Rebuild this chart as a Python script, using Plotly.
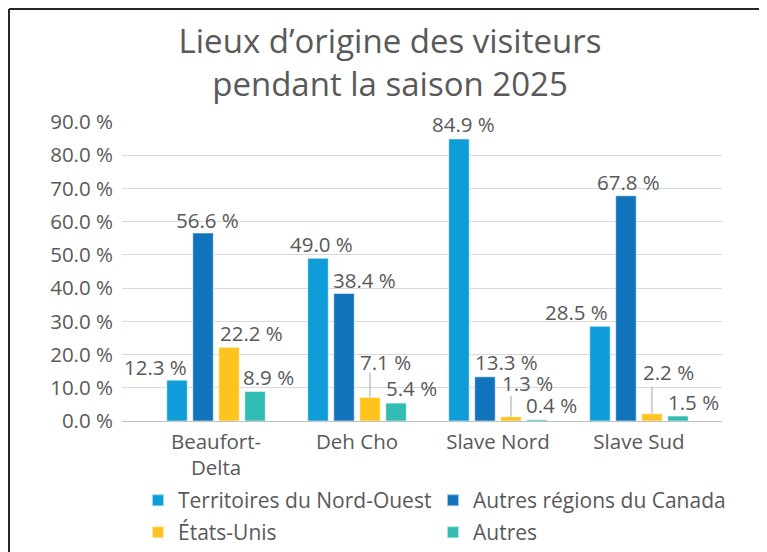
import plotly.graph_objects as go

categories = ["Beaufort-<br>Delta", "Deh Cho", "Slave Nord", "Slave Sud"]
series_names = ["Territoires du Nord-Ouest", "Autres régions du Canada", "États-Unis", "Autres"]
tno = [12.3, 49.0, 84.9, 28.5]
canada = [56.6, 38.4, 13.3, 67.8]
usa = [22.2, 7.1, 1.3, 2.2]
autres = [8.9, 5.4, 0.4, 1.5]
y_ticks = [0, 10, 20, 30, 40, 50, 60, 70, 80, 90]
y_tick_labels = ["0.0 %", "10.0 %", "20.0 %", "30.0 %", "40.0 %", "50.0 %", "60.0 %", "70.0 %", "80.0 %", "90.0 %"]

series_values = [tno, canada, usa, autres]
colors = ["#0F9DD9", "#1273BD", "#FEC41E", "#31BDB3"]
legend_ids = ["legend", "legend", "legend2", "legend2"]

# label offsets (pixels) relative to bar top centre: [series][category]
label_dx = [[-22, 3, 4, -24], [4, 20, 21, 3], [22, 16, 17, 17], [14, 16, 15, 16]]
label_dy = [[13, 14, 15, 14], [13, 13, 15, 14], [14, 35, 34, 42], [14, 15, 15, 14]]
leader = [[0, 0, 0, 0], [0, 0, 0, 0], [0, 25, 21, 27], [0, 0, 0, 0]]

FONT = "Open Sans"
TXT = "#595959"
FS = 20.5

W, H = 759, 544
L, R, T, B = 114, 45, 114, 131
PW, PH = W - L - R, H - T - B

fig = go.Figure()
for name, vals, col, lg in zip(series_names, series_values, colors, legend_ids):
    fig.add_trace(go.Bar(
        x=list(range(len(categories))), y=vals, name=name, legend=lg,
        marker=dict(color=col, line=dict(color="rgba(255,255,255,0.6)", width=1)),
        hoverinfo="skip",
    ))

slot = 0.184
annotations = []
shapes = []
for j, vals in enumerate(series_values):
    off = (j - 1.5) * slot
    for i, v in enumerate(vals):
        annotations.append(dict(
            x=i + off, y=v, xref="x", yref="y",
            text=f"{v:.1f} %", showarrow=False,
            xshift=label_dx[j][i], yshift=label_dy[j][i],
            xanchor="center", yanchor="middle",
            font=dict(family=FONT, size=FS, color=TXT),
        ))
        if leader[j][i]:
            shapes.append(dict(
                type="line", xref="x", yref="y", ysizemode="pixel",
                x0=i + off, x1=i + off, yanchor=v, y0=0, y1=leader[j][i],
                line=dict(color="#A6A6A6", width=1),
            ))

# outer frame (left and top edges)
fx = (1 - L) / PW
fy = (PH + T - 1) / PH
shapes.append(dict(type="line", xref="paper", yref="paper",
                   x0=fx, x1=fx, y0=-B / PH - 0.05, y1=fy,
                   line=dict(color="#262626", width=2)))
shapes.append(dict(type="line", xref="paper", yref="paper",
                   x0=fx, x1=(W - L) / PW + 0.05, y0=fy, y1=fy,
                   line=dict(color="#262626", width=2)))

legend_common = dict(orientation="h", xref="container", yref="container",
                     xanchor="left", yanchor="top",
                     entrywidth=250, entrywidthmode="pixels",
                     font=dict(family=FONT, size=21, color=TXT), itemsizing="constant",
                     traceorder="normal", bgcolor="rgba(0,0,0,0)")

fig.update_layout(
    width=W, height=H,
    margin=dict(l=L, r=R, t=T, b=B, autoexpand=False),
    paper_bgcolor="white", plot_bgcolor="white",
    barmode="group", bargap=0.262, bargroupgap=0.21,
    title=dict(text="Lieux d’origine des visiteurs<br>pendant la saison 2025",
               x=382 / W, xanchor="center", y=1 - 45 / H, yanchor="top", yref="container",
               font=dict(family=FONT, size=33, color=TXT)),
    xaxis=dict(type="linear", range=[-0.667, 3.589], tickvals=list(range(len(categories))),
               ticktext=categories, showgrid=False, zeroline=False,
               showline=True, linecolor="#BFBFBF", linewidth=1, ticks="",
               ticklabelstandoff=2,
               tickfont=dict(family=FONT, size=FS, color=TXT)),
    yaxis=dict(range=[0, 90], tickvals=y_ticks, ticktext=y_tick_labels,
               showgrid=True, gridcolor="#D9D9D9", gridwidth=1, zeroline=False,
               showline=False, ticks="", ticklabelstandoff=8,
               tickfont=dict(family=FONT, size=FS, color=TXT)),
    legend=dict(legend_common, x=130 / W, y=1 - 472 / H),
    legend2=dict(legend_common, x=130 / W, y=1 - 504 / H),
    annotations=annotations, shapes=shapes, showlegend=True,
)

fig.write_html("out.html")
